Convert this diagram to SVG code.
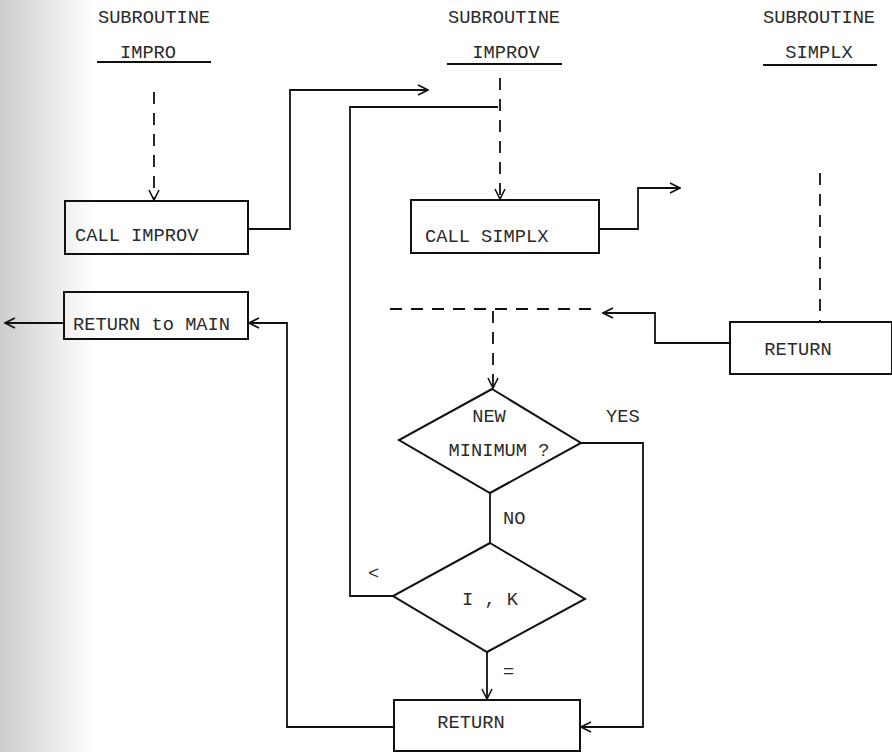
<svg xmlns="http://www.w3.org/2000/svg" width="892" height="752" viewBox="0 0 892 752">
<defs>
<linearGradient id="shade" x1="0" y1="0" x2="1" y2="0">
<stop offset="0" stop-color="#cdcdcd"/>
<stop offset="1" stop-color="#ffffff"/>
</linearGradient>
<marker id="arr" viewBox="0 0 12 12" refX="11" refY="6" markerWidth="12" markerHeight="12" markerUnits="userSpaceOnUse" orient="auto">
<path d="M1,1 L11,6 L1,11" fill="none" stroke="#111" stroke-width="1.6"/>
</marker>
<style>
text{font-family:"Liberation Mono","DejaVu Sans Mono",monospace;font-size:18.7px;fill:#2a2a2a}
.c{text-anchor:middle}
.box{fill:none;stroke:#111;stroke-width:2}
.ln{fill:none;stroke:#111;stroke-width:1.8}
.ds{fill:none;stroke:#111;stroke-width:1.8;stroke-dasharray:12 9}
.ul{stroke:#111;stroke-width:1.8}
</style>
</defs>
<rect x="0" y="0" width="892" height="752" fill="#fff"/>
<rect x="0" y="0" width="95" height="752" fill="url(#shade)"/>
<g id="headers">
<text class="c" x="154" y="23">SUBROUTINE</text>
<text class="c" x="148" y="58">IMPRO</text>
<line class="ul" x1="97" y1="62" x2="211" y2="62"/>
<text class="c" x="504" y="23">SUBROUTINE</text>
<text class="c" x="506" y="58">IMPROV</text>
<line class="ul" x1="447" y1="64" x2="562" y2="64"/>
<text class="c" x="819" y="23">SUBROUTINE</text>
<text class="c" x="819" y="58">SIMPLX</text>
<line class="ul" x1="763" y1="65" x2="877" y2="65"/>
</g>
<g id="callimprov">
<rect class="box" x="65" y="201" width="183" height="53"/>
<text x="75" y="241">CALL IMPROV</text>
</g>
<g id="returnmain">
<rect class="box" x="64" y="292" width="184" height="47"/>
<text x="73" y="330">RETURN to MAIN</text>
</g>
<g id="callsimplx">
<rect class="box" x="411" y="200" width="188" height="53"/>
<text x="425" y="242">CALL SIMPLX</text>
</g>
<g id="returnsimplx">
<rect class="box" x="730" y="322" width="162" height="52"/>
<text class="c" x="798" y="355">RETURN</text>
</g>
<g id="newmin">
<polygon class="box" points="492,389 581,443 490,493 399,440"/>
<text class="c" x="489" y="422">NEW</text>
<text class="c" x="499" y="456">MINIMUM ?</text>
</g>
<g id="ik">
<polygon class="box" points="490,543 585,599 487,652 393,596"/>
<text class="c" x="490" y="605">I , K</text>
</g>
<g id="returnimprov">
<rect class="box" x="394" y="700" width="186" height="51"/>
<text class="c" x="471" y="728">RETURN</text>
</g>
<g id="connectors">
<line class="ds" x1="154" y1="92" x2="154" y2="200" marker-end="url(#arr)"/>
<polyline class="ln" points="248,229 290,229 290,90 428,90" marker-end="url(#arr)"/>
<line class="ln" x1="64" y1="323" x2="5" y2="323" marker-end="url(#arr)"/>
<polyline class="ln" points="393,727 287,727 287,323 249,323" marker-end="url(#arr)"/>
<line class="ds" x1="500" y1="78" x2="500" y2="199" marker-end="url(#arr)"/>
<polyline class="ln" points="393,596 350,596 350,107 498,107"/>
<polyline class="ln" points="599,229 638,229 638,188 680,188" marker-end="url(#arr)"/>
<line class="ds" x1="820" y1="173" x2="820" y2="321"/>
<polyline class="ln" points="730,343 655,343 655,313 603,313" marker-end="url(#arr)"/>
<line class="ds" x1="390" y1="309" x2="600" y2="309"/>
<line class="ds" x1="493" y1="311" x2="493" y2="388" marker-end="url(#arr)"/>
<text x="606" y="422">YES</text>
<polyline class="ln" points="581,443 643,443 643,727 581,727" marker-end="url(#arr)"/>
<line class="ln" x1="490" y1="493" x2="490" y2="543"/>
<text x="503" y="524">NO</text>
<text x="368" y="579">&lt;</text>
<line class="ln" x1="487" y1="652" x2="487" y2="699" marker-end="url(#arr)"/>
<text x="503" y="677">=</text>
</g>
</svg>
